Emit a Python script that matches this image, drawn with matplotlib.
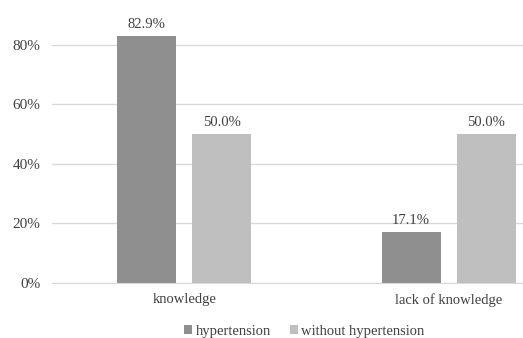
import matplotlib
matplotlib.use("Agg")
import matplotlib.pyplot as plt
import numpy as np

categories = ["knowledge", "lack of knowledge"]
hypertension = [82.9, 17.1]
without_hypertension = [50.0, 50.0]
series_names = ["hypertension", "without hypertension"]
yticks = [0, 20, 40, 60, 80]

plt.rcParams["font.family"] = ["Liberation Serif", "DejaVu Serif"]
txt = "#404040"

fig = plt.figure(figsize=(5.23, 3.38), dpi=100)
W, H = 523, 338
# plot area in pixels: left 52, right 581 (runs past the canvas), bottom 283, top 15
ax = fig.add_axes([52 / W, 1 - 283 / H, (581 - 52) / W, (283 - 15) / H])

x = np.arange(len(categories))
bw = 0.2235
off = 0.142
b1 = ax.bar(x - off, hypertension, bw, color="#8f8f8f", label=series_names[0], zorder=3)
b2 = ax.bar(x + off, without_hypertension, bw, color="#bfbfbf", label=series_names[1], zorder=3)

for bars, vals in ((b1, hypertension), (b2, without_hypertension)):
    for r, v in zip(bars, vals):
        ax.annotate(f"{v:.1f}%", (r.get_x() + r.get_width() / 2, v),
                    xytext=(0, 4), textcoords="offset points",
                    ha="center", va="bottom", fontsize=10.5, color=txt)

ax.set_xlim(-0.5, 1.5)
ax.set_ylim(0, 90)
ax.set_yticks(yticks)
ax.set_yticklabels([f"{t}%" for t in yticks], fontsize=11, color=txt)
ax.set_xticks(x)
ax.set_xticklabels(categories, fontsize=10.5, color=txt)
ax.tick_params(length=0)
ax.tick_params(axis="y", pad=8.5)
ax.tick_params(axis="x", pad=7)
ax.yaxis.grid(True, color="#d9d9d9", linewidth=1, zorder=0)
for s in ["top", "right", "left"]:
    ax.spines[s].set_visible(False)
ax.spines["bottom"].set_color("#d9d9d9")

fig.legend(handles=[b1, b2], labels=series_names, loc="center",
           bbox_to_anchor=(304.5 / W, 1 - 331 / H), ncol=2, frameon=False,
           fontsize=10.5, handlelength=0.55, handleheight=0.55,
           handletextpad=0.2, columnspacing=1.35, labelcolor=txt,
           borderpad=0, borderaxespad=0)

fig.savefig("out.png", dpi=100)
